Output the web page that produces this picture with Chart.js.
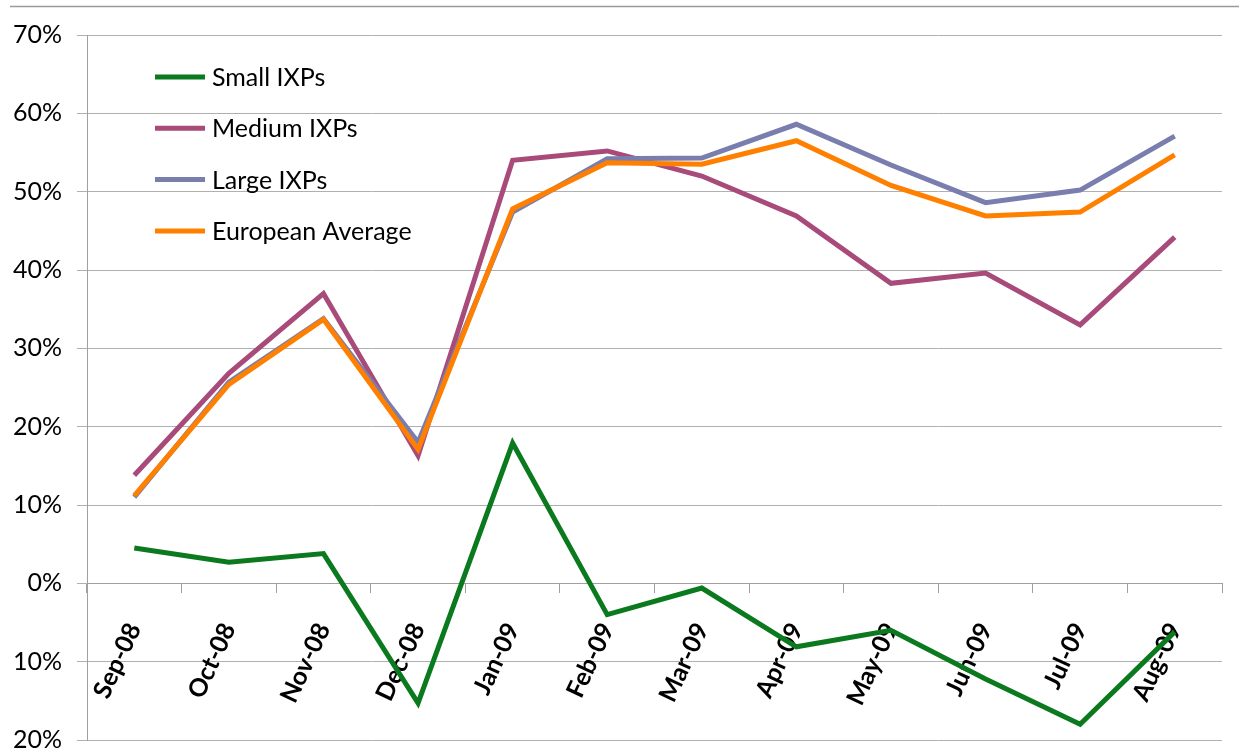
<!DOCTYPE html>
<html>
<head>
<meta charset="utf-8">
<title>IXP traffic growth</title>
<script src="https://cdn.jsdelivr.net/npm/chart.js@4.4.1/dist/chart.umd.min.js"></script>
<style>
  html, body { margin: 0; padding: 0; background: #fff; }
  #wrap { width: 1239px; height: 755px; position: relative; }
</style>
</head>
<body>
<div id="wrap"><canvas id="chart"></canvas></div>
<script>
// monthly growth, percent
const months = ['Sep-08', 'Oct-08', 'Nov-08', 'Dec-08', 'Jan-09', 'Feb-09',
                'Mar-09', 'Apr-09', 'May-09', 'Jun-09', 'Jul-09', 'Aug-09'];
const smallIxps  = [4.5, 2.7, 3.8, -15.3, 17.9, -4.0, -0.6, -8.1, -6.0, -12.2, -18.0, -6.2];
const mediumIxps = [13.8, 26.8, 37.0, 16.3, 54.0, 55.2, 52.0, 46.9, 38.3, 39.6, 33.0, 44.2];
const largeIxps  = [11.0, 25.7, 33.8, 18.0, 47.4, 54.2, 54.3, 58.6, 53.4, 48.6, 50.2, 57.1];
const euroAvg    = [11.2, 25.4, 33.7, 17.1, 47.8, 53.7, 53.5, 56.5, 50.8, 46.9, 47.4, 54.7];

const FONT = 'Lato, "Open Sans", sans-serif';

// legend drawn inside the plot, top left, like the original
const insideLegend = {
  id: 'insideLegend',
  afterDatasetsDraw(chart) {
    const { ctx, chartArea } = chart;
    ctx.save();
    ctx.font = '25px ' + FONT;
    ctx.textBaseline = 'middle';
    chart.data.datasets.forEach((ds, i) => {
      const y = chartArea.top + 42 + i * 51.3;
      const x = chartArea.left + 68;
      ctx.strokeStyle = ds.borderColor;
      ctx.lineWidth = 5;
      ctx.beginPath();
      ctx.moveTo(x, y);
      ctx.lineTo(x + 50, y);
      ctx.stroke();
      ctx.fillStyle = '#000';
      ctx.fillText(ds.label, x + 57, y + 1);
    });
    ctx.restore();
  }
};

// thin frame line across the top
const topRule = {
  id: 'topRule',
  beforeDraw(chart) {
    const ctx = chart.ctx;
    ctx.save();
    ctx.strokeStyle = '#9a9a9a';
    ctx.lineWidth = 1.5;
    ctx.beginPath();
    ctx.moveTo(10, 6.5);
    ctx.lineTo(chart.width, 6.5);
    ctx.stroke();
    ctx.restore();
  }
};

function series(label, data, color, order) {
  return {
    label: label,
    data: data,
    borderColor: color,
    backgroundColor: color,
    borderWidth: 5,
    pointRadius: 0,
    tension: 0,
    borderJoinStyle: 'miter',
    order: order
  };
}

new Chart(document.getElementById('chart'), {
  type: 'line',
  data: {
    labels: months,
    datasets: [
      series('Small IXPs', smallIxps, '#0b7a1f', 4),
      series('Medium IXPs', mediumIxps, '#a84b7a', 3),
      series('Large IXPs', largeIxps, '#7a7eae', 2),
      series('European Average', euroAvg, '#ff8000', 1)
    ]
  },
  options: {
    responsive: true,
    maintainAspectRatio: false,
    animation: false,
    layout: { padding: { top: 35, right: 17, bottom: 15, left: 0 } },
    plugins: {
      legend: { display: false },
      tooltip: { enabled: false }
    },
    scales: {
      x: {
        type: 'category',
        offset: true,
        position: { y: 0 },
        z: 1,
        grid: { drawOnChartArea: false, offset: true, tickLength: 9, color: '#a0a0a0' },
        border: { color: '#a0a0a0' },
        ticks: {
          color: '#000',
          font: { family: FONT, size: 25, weight: 'bold' },
          minRotation: 65,
          maxRotation: 65,
          padding: 26,
          autoSkip: false
        },
        afterFit(scale) {
          scale.paddingTop = 0;
          scale.paddingBottom = 0;
          scale.paddingLeft = 0;
          scale.paddingRight = 0;
        }
      },
      y: {
        min: -20,
        max: 70,
        grid: { color: '#b0b0b0', tickLength: 10 },
        border: { color: '#a0a0a0' },
        ticks: {
          stepSize: 10,
          padding: 15,
          color: '#000',
          font: { family: FONT, size: 25 },
          callback: v => Math.abs(v) + '%'
        },
        afterFit(scale) {
          scale.width = 87;
          scale.paddingTop = 0;
          scale.paddingBottom = 0;
        }
      }
    }
  },
  plugins: [topRule, insideLegend]
});
</script>
</body>
</html>
